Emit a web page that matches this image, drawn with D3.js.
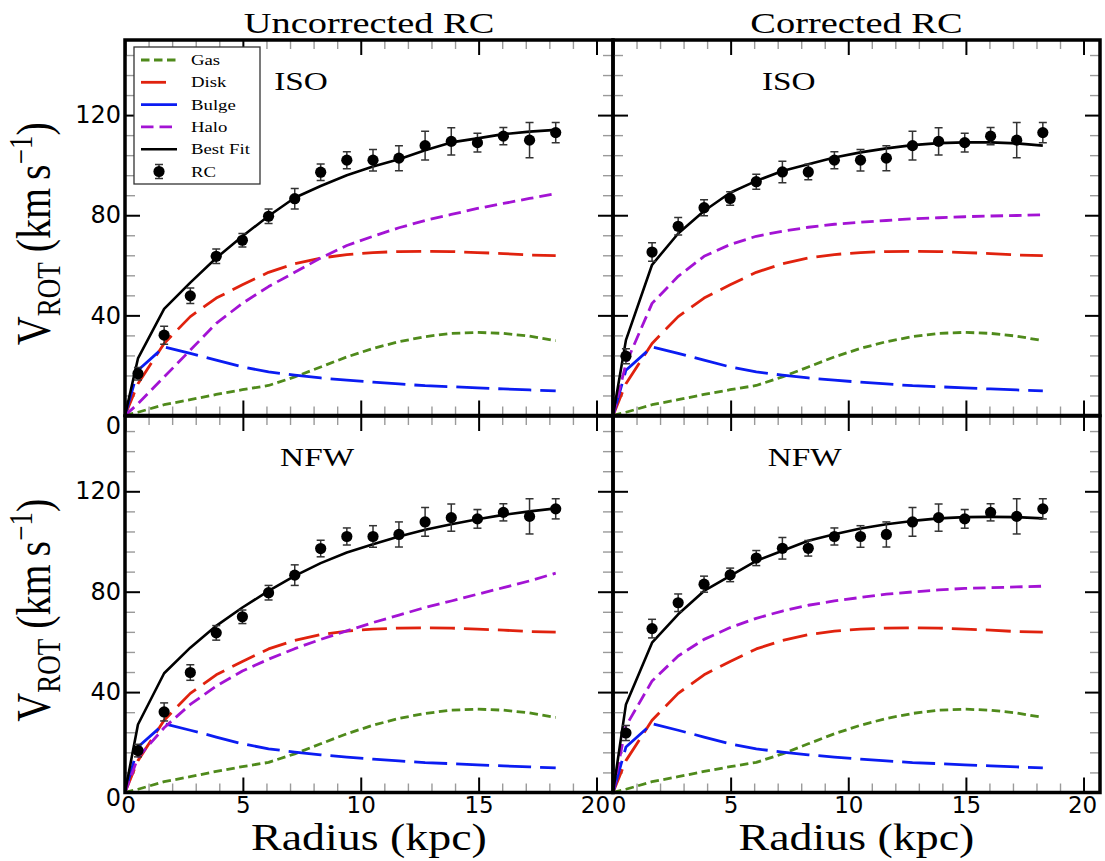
<!DOCTYPE html>
<html><head><meta charset="utf-8">
<script src="https://cdn.jsdelivr.net/npm/d3@7"></script>
<style>body{margin:0;background:#fff}</style>
</head><body>
<svg id="chart" width="1105" height="861"></svg>
<script>
// ---------------- data ----------------
const radius = [0.55, 1.66, 2.77, 3.87, 4.98, 6.09, 7.2, 8.3, 9.41, 10.52, 11.62, 12.73, 13.84, 14.95, 16.05, 17.16, 18.27];
const rcUncorrected = [16.7, 32.1, 47.8, 63.6, 70.0, 79.6, 86.6, 97.2, 102.0, 102.0, 102.8, 107.8, 109.5, 109.0, 111.6, 110.0, 113.0];
const errUncorrected = [2.5, 3.6, 3.1, 2.9, 2.7, 2.9, 4.1, 3.3, 3.4, 4.3, 5.0, 5.7, 5.4, 3.7, 3.4, 7.0, 4.0];
const rcCorrected = [23.7, 65.3, 75.6, 83.0, 86.7, 93.4, 97.3, 97.3, 102.0, 102.0, 102.8, 107.8, 109.5, 109.0, 111.6, 110.0, 113.0];
const errCorrected = [3.0, 3.7, 3.5, 3.2, 2.7, 3.0, 4.3, 3.1, 3.4, 4.3, 5.0, 5.7, 5.4, 3.7, 3.4, 7.0, 4.0];

// model curves sampled at r = 0 and at every radius above
const curveRadius = [0, 0.55, 1.66, 2.77, 3.87, 4.98, 6.09, 7.2, 8.3, 9.41, 10.52, 11.62, 12.73, 13.84, 14.95, 16.05, 17.16, 18.27];
const gas   = [0, 1.3, 4.3, 6.3, 8.4, 10.3, 12.0, 15.4, 19.4, 23.4, 26.8, 29.5, 31.5, 32.8, 33.2, 32.8, 31.7, 29.9];
const disk  = [0, 12.7, 28.8, 39.5, 46.9, 52.2, 57.2, 60.6, 62.9, 64.3, 65.1, 65.5, 65.6, 65.5, 65.1, 64.7, 64.1, 63.9];
const bulge = [0, 18.1, 27.4, 24.8, 22.1, 19.4, 17.4, 16.1, 15.0, 14.1, 13.3, 12.6, 11.9, 11.5, 11.0, 10.6, 10.2, 9.8];

const haloIsoUncorrected = [0, 4.7, 15.4, 26.1, 36.8, 44.8, 51.5, 57.2, 62.9, 67.9, 71.6, 75.0, 77.9, 80.3, 82.7, 84.7, 86.7, 88.6];
const fitIsoUncorrected  = [0, 22.8, 42.6, 53.1, 62.9, 71.6, 79.7, 87.0, 91.7, 96.0, 99.5, 102.4, 106.0, 109.1, 110.7, 112.4, 113.4, 114.1];
const haloIsoCorrected   = [0, 20.7, 44.8, 55.6, 63.6, 68.3, 71.6, 73.6, 75.2, 76.4, 77.2, 77.9, 78.6, 79.0, 79.4, 79.7, 79.9, 80.2];
const fitIsoCorrected    = [0, 30.1, 60.2, 72.7, 81.7, 89.0, 93.7, 97.7, 100.4, 103.1, 105.1, 106.7, 108.0, 108.8, 109.1, 109.1, 108.7, 107.8];
const haloNfwUncorrected = [0, 14.0, 25.8, 35.1, 42.4, 48.4, 53.1, 57.3, 61.0, 64.4, 67.7, 70.7, 73.7, 76.3, 79.0, 81.6, 84.3, 87.4];
const fitNfwUncorrected  = [0, 27.1, 47.5, 57.7, 66.4, 73.7, 80.3, 86.3, 91.4, 95.6, 98.9, 102.0, 104.7, 106.9, 108.9, 110.6, 112.0, 113.2];
const haloNfwCorrected   = [0, 26.5, 44.4, 54.4, 61.0, 65.7, 69.4, 72.3, 74.6, 76.3, 77.7, 79.0, 79.9, 80.7, 81.3, 81.6, 81.9, 82.2];
const fitNfwCorrected    = [0, 35.1, 59.7, 71.0, 80.3, 86.3, 92.3, 96.3, 100.3, 102.9, 105.2, 106.9, 108.2, 109.2, 109.7, 109.8, 109.7, 109.2];

const columnTitles = ["Uncorrected RC", "Corrected RC"];
const rowLabels = ["ISO", "NFW"];
const legendNames = ["Gas", "Disk", "Bulge", "Halo", "Best Fit", "RC"];
const xTickValues = [0, 5, 10, 15, 20];
const yTickValues = [0, 40, 80, 120];
const xLabel = "Radius (kpc)";

// ---------------- layout / style ----------------
const svg = d3.select("#chart");
const colX = [[125, 613], [613, 1100]];
const rowY = [[415.5, 40], [792.5, 416]];
const xDomain = [0, 20.7], yDomain = [0, 150];
const styles = {
  gas:   {color: "#4f8a1b", dash: "8.5,4.5", w: 2.8},
  disk:  {color: "#e0220e", dash: "25,9",    w: 2.8},
  bulge: {color: "#0b1cf2", dash: "33,9",    w: 2.8},
  halo:  {color: "#a313d4", dash: "12.5,6",  w: 2.8},
  fit:   {color: "#000000", dash: null,      w: 2.6}
};
const serif = "'Liberation Serif', 'Times New Roman', serif";
const sans = "'DejaVu Sans', sans-serif";

function stretch(sel, f) {
  sel.each(function () {
    const w = this.getComputedTextLength();
    d3.select(this).attr("textLength", w * f).attr("lengthAdjust", "spacingAndGlyphs");
  });
}

const panels = [
  {col: 0, row: 0, halo: haloIsoUncorrected, fit: fitIsoUncorrected, rc: rcUncorrected, err: errUncorrected, lx: 6.33},
  {col: 1, row: 0, halo: haloIsoCorrected,   fit: fitIsoCorrected,   rc: rcCorrected,   err: errCorrected,   lx: 6.33},
  {col: 0, row: 1, halo: haloNfwUncorrected, fit: fitNfwUncorrected, rc: rcUncorrected, err: errUncorrected, lx: 6.58},
  {col: 1, row: 1, halo: haloNfwCorrected,   fit: fitNfwCorrected,   rc: rcCorrected,   err: errCorrected,   lx: 6.58}
];

const minorX = d3.range(1, 21).filter(v => v % 5 !== 0);
const minorY = d3.range(8, 150, 8).filter(v => v % 40 !== 0);

panels.forEach((p, pi) => {
  const x = d3.scaleLinear().domain(xDomain).range(colX[p.col]);
  const y = d3.scaleLinear().domain(yDomain).range(rowY[p.row]);
  const [x0, x1] = x.range();
  const [yb, yt] = y.range();
  const g = svg.append("g");

  const clipId = "clip" + pi;
  svg.append("clipPath").attr("id", clipId).append("rect")
    .attr("x", x0).attr("y", yt).attr("width", x1 - x0).attr("height", yb - yt);

  // ticks (inward on all sides)
  function ticks(axis, tr, vals, size, cls, labels) {
    const a = g.append("g").attr("transform", tr)
      .call(axis.tickValues(vals).tickSize(-size).tickPadding(labels ? 5 : 3)
        .tickFormat(labels ? d3.format("d") : () => ""));
    a.select(".domain").remove();
    a.selectAll("line").attr("stroke", cls === "minor" ? "#9a9a9a" : "#000")
      .attr("stroke-width", cls === "minor" ? 1.4 : 2);
    a.selectAll("text").attr("font-family", sans).attr("font-size", 23).attr("fill", "#000");
    return a;
  }
  ticks(d3.axisBottom(x), `translate(0,${yb})`, minorX, 9, "minor", false);
  ticks(d3.axisTop(x), `translate(0,${yt})`, minorX, 9, "minor", false);
  ticks(d3.axisLeft(y), `translate(${x0},0)`, minorY, 10, "minor", false);
  ticks(d3.axisRight(y), `translate(${x1},0)`, minorY, 10, "minor", false);
  const bx = ticks(d3.axisBottom(x), `translate(0,${yb})`, xTickValues, 15, "major", p.row === 1);
  ticks(d3.axisTop(x), `translate(0,${yt})`, xTickValues, 15, "major", false);
  const ly = ticks(d3.axisLeft(y), `translate(${x0},0)`, yTickValues, 15, "major", p.col === 0);
  ticks(d3.axisRight(y), `translate(${x1},0)`, yTickValues, 15, "major", false);
  if (p.col === 0) {
    ly.selectAll("text").attr("x", -4).attr("font-size", 24)
      .filter(d => d === 0).attr("y", p.row === 0 ? 10 : 5);
  }
  if (p.row === 1) {
    bx.selectAll("text").attr("y", 4);
    bx.selectAll("text").filter(d => d === 0).attr("x", p.col === 0 ? 3 : 5.5);
    bx.selectAll("text").filter(d => d === 20).attr("x", -1.5);
  }

  // curves
  const line = d3.line().x((d, i) => x(curveRadius[i])).y(d => y(d));
  const plot = g.append("g").attr("clip-path", `url(#${clipId})`);
  const series = [["gas", gas], ["disk", disk], ["bulge", bulge], ["halo", p.halo], ["fit", p.fit]];
  series.forEach(([k, vals]) => {
    const s = styles[k];
    plot.append("path").datum(vals).attr("d", line)
      .attr("fill", "none").attr("stroke", s.color).attr("stroke-width", s.w)
      .attr("stroke-dasharray", s.dash).attr("stroke-linejoin", "round");
  });

  // error bars + points
  const pts = plot.append("g");
  radius.forEach((r, i) => {
    const cx = x(r), lo = y(p.rc[i] - p.err[i]), hi = y(p.rc[i] + p.err[i]);
    pts.append("line").attr("x1", cx).attr("x2", cx).attr("y1", lo).attr("y2", hi)
      .attr("stroke", "#333").attr("stroke-width", 1.5);
    [lo, hi].forEach(yy => pts.append("line").attr("x1", cx - 4).attr("x2", cx + 4)
      .attr("y1", yy).attr("y2", yy).attr("stroke", "#333").attr("stroke-width", 1.5));
    pts.append("circle").attr("cx", cx).attr("cy", y(p.rc[i])).attr("r", 5.6).attr("fill", "#000");
  });

  // frame
  g.append("rect").attr("x", x0).attr("y", yt).attr("width", x1 - x0).attr("height", yb - yt)
    .attr("fill", "none").attr("stroke", "#000").attr("stroke-width", 3.5);

  // panel label
  const pl = g.append("text").attr("x", x(p.lx)).attr("y", y(130))
    .attr("font-family", serif).attr("font-size", 26).text(rowLabels[p.row]);
  stretch(pl, 1.28);

  // column title and x label
  if (p.row === 0) {
    const t = svg.append("text").attr("x", (x0 + x1) / 2).attr("y", 33)
      .attr("text-anchor", "middle").attr("font-family", serif).attr("font-size", 30)
      .text(columnTitles[p.col]);
    stretch(t, 1.28);
  }
  if (p.row === 1) {
    const t = svg.append("text").attr("x", (x0 + x1) / 2).attr("y", 850)
      .attr("text-anchor", "middle").attr("font-family", serif).attr("font-size", 37)
      .text(xLabel);
    stretch(t, 1.24);
  }
  // y label
  if (p.col === 0) {
    const cy = (yb + yt) / 2 + 6;
    const t = svg.append("text")
      .attr("transform", `translate(50,${cy}) rotate(-90) scale(1,1.22)`)
      .attr("text-anchor", "middle").attr("font-family", serif).attr("font-size", 40);
    t.append("tspan").text("V");
    t.append("tspan").attr("font-size", 27).attr("dy", 8).text("ROT");
    t.append("tspan").attr("dy", -8).text(" (km\u2009s");
    t.append("tspan").attr("font-size", 27).attr("dy", -15).text("\u22121");
    t.append("tspan").attr("dy", 15).text(")");
  }
});

// ---------------- legend ----------------
const lg = svg.append("g");
lg.append("rect").attr("x", 134).attr("y", 47).attr("width", 126).attr("height", 137)
  .attr("fill", "#fff").attr("stroke", "#333").attr("stroke-width", 1.3);
const legendKeys = ["gas", "disk", "bulge", "halo", "fit", "rc"];
const legendLineEnd = {gas: 177, disk: 166, bulge: 177, halo: 177, fit: 177};
legendNames.forEach((name, i) => {
  const yy = 60 + i * 22.3;
  const k = legendKeys[i];
  if (k !== "rc") {
    const s = styles[k];
    lg.append("line").attr("x1", 141).attr("x2", legendLineEnd[k]).attr("y1", yy).attr("y2", yy)
      .attr("stroke", s.color).attr("stroke-width", s.w)
      .attr("stroke-dasharray", k === "bulge" ? null : s.dash);
  } else {
    lg.append("line").attr("x1", 159).attr("x2", 159).attr("y1", yy - 7).attr("y2", yy + 7)
      .attr("stroke", "#333").attr("stroke-width", 1.5);
    [yy - 7, yy + 7].forEach(v => lg.append("line").attr("x1", 155).attr("x2", 163)
      .attr("y1", v).attr("y2", v).attr("stroke", "#333").attr("stroke-width", 1.5));
    lg.append("circle").attr("cx", 159).attr("cy", yy).attr("r", 5.6).attr("fill", "#000");
  }
  const t = lg.append("text").attr("x", 191).attr("y", yy + 5)
    .attr("font-family", serif).attr("font-size", 15).text(name);
  stretch(t, 1.25);
});
</script>
</body></html>
